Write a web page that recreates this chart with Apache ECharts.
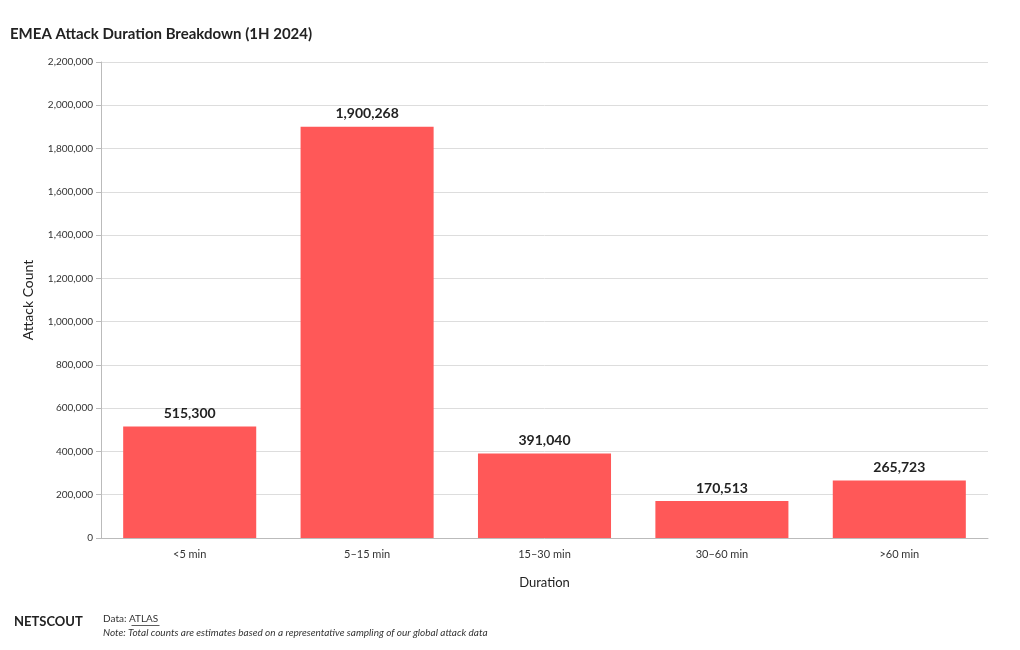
<!DOCTYPE html>
<html>
<head>
<meta charset="utf-8">
<script src="https://cdn.jsdelivr.net/npm/echarts@6/dist/echarts.min.js"></script>
<style>
html,body{margin:0;padding:0;background:#fff;}
#c{width:1020px;height:650px;}
</style>
</head>
<body>
<div id="c"></div>
<script>
const categories = ['<5 min', '5\u201315 min', '15\u201330 min', '30\u201360 min', '>60 min'];
const attackCounts = [515300, 1900268, 391040, 170513, 265723];

const FONT = 'Lato, "Noto Sans", sans-serif';
const fmt = v => v.toLocaleString('en-US');

const chart = echarts.init(document.getElementById('c'));
chart.setOption({
  animation: false,
  textStyle: { fontFamily: FONT },
  title: [
    { text: 'EMEA Attack Duration Breakdown (1H 2024)', left: 10, top: 27, padding: 0,
      textStyle: { fontFamily: FONT, fontSize: 15, fontWeight: 'bold', color: '#222' } },
    { text: 'NETSCOUT', left: 14, top: 615, padding: 0,
      textStyle: { fontFamily: FONT, fontSize: 13, fontWeight: 'bold', color: '#222' } },
    { text: 'Data: ATLAS', left: 103, top: 614, padding: 0,
      textStyle: { fontFamily: FONT, fontSize: 10, fontWeight: 'normal', color: '#333' } },
    { text: 'Note: Total counts are estimates based on a representative sampling of our global attack data', left: 103, top: 628, padding: 0,
      textStyle: { fontFamily: FONT, fontSize: 10, fontStyle: 'italic', fontWeight: 'normal', color: '#333' } }
  ],
  graphic: [
    { type: 'line', left: 129, top: 623, shape: { x1: 0, y1: 0, x2: 28, y2: 0 }, style: { stroke: '#333', lineWidth: 0.8 } }
  ],
  grid: { left: 101, right: 32, top: 62, bottom: 112, containLabel: false },
  xAxis: {
    type: 'category',
    data: categories,
    name: 'Duration',
    nameLocation: 'middle',
    nameGap: 38,
    nameTextStyle: { fontFamily: FONT, fontSize: 13, color: '#222' },
    axisLine: { lineStyle: { color: '#bbb' } },
    axisTick: { alignWithLabel: true, length: 5, lineStyle: { color: '#bbb' } },
    axisLabel: { fontFamily: FONT, fontSize: 11, color: '#333', margin: 11 }
  },
  yAxis: {
    type: 'value',
    min: 0, max: 2200000, interval: 200000,
    name: 'Attack Count',
    nameLocation: 'middle',
    nameGap: 66,
    nameTextStyle: { fontFamily: FONT, fontSize: 14, color: '#222' },
    axisLine: { show: true, lineStyle: { color: '#bbb' } },
    axisTick: { show: true, length: 5, lineStyle: { color: '#bbb' } },
    axisLabel: { fontFamily: FONT, fontSize: 10, color: '#333', margin: 8, formatter: v => fmt(v) },
    splitLine: { lineStyle: { color: '#ddd' } }
  },
  series: [{
    type: 'bar',
    data: attackCounts,
    barWidth: '75%',
    itemStyle: { color: '#FF5858' },
    label: { show: true, position: 'top', distance: 6, fontFamily: FONT, fontSize: 14, fontWeight: 'bold', color: '#222',
      formatter: p => fmt(p.value) }
  }]
});
</script>
</body>
</html>
